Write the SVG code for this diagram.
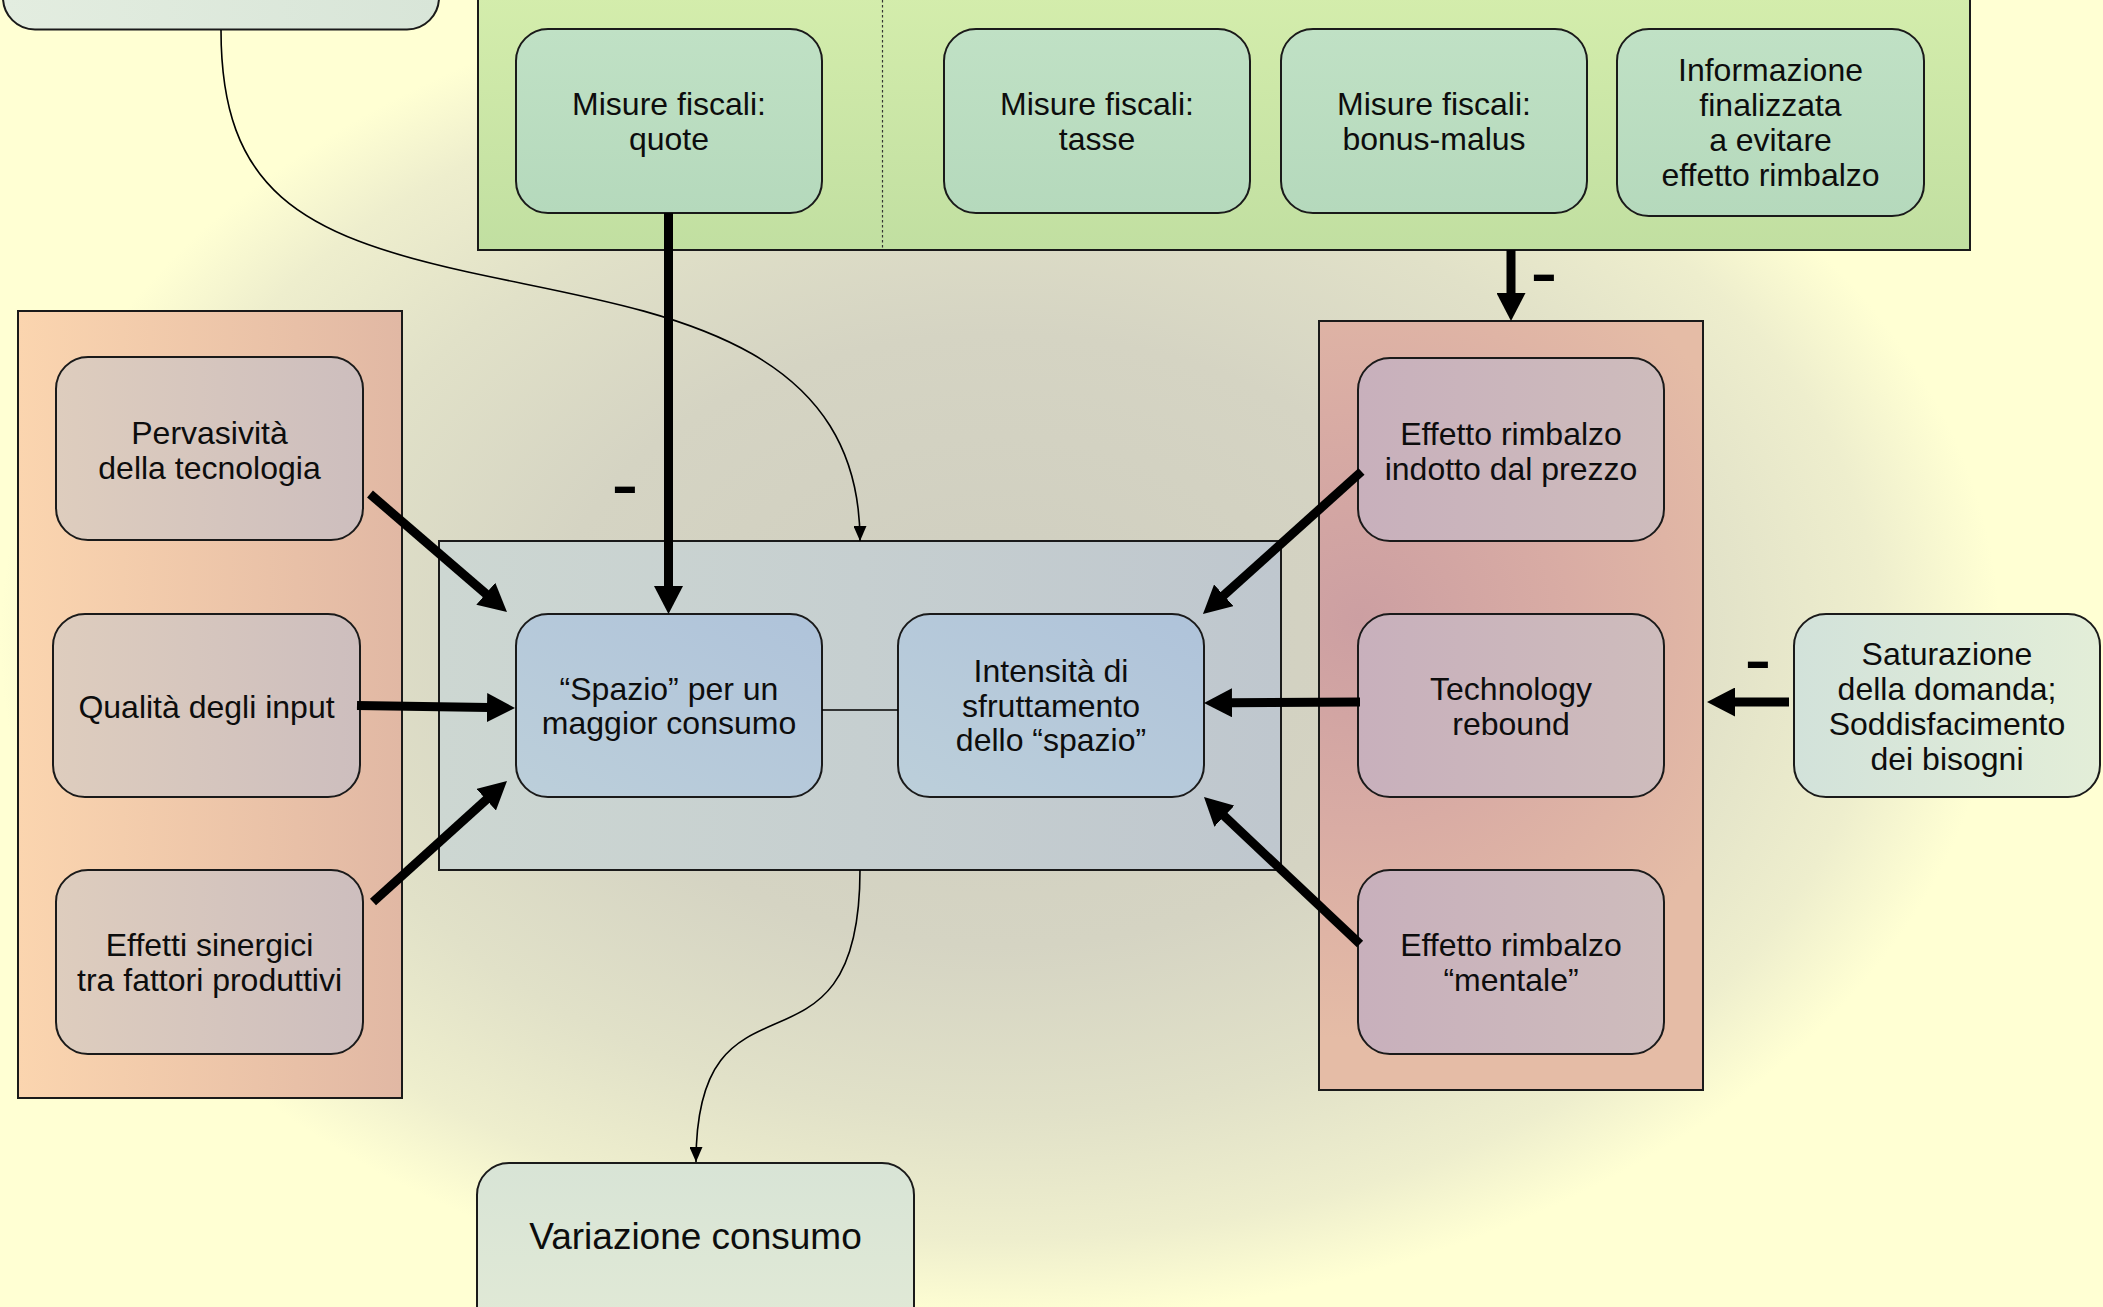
<svg xmlns="http://www.w3.org/2000/svg" width="2103" height="1307" viewBox="0 0 2103 1307">
<defs>
<radialGradient id="bg" gradientUnits="userSpaceOnUse" cx="1000" cy="640" r="1000" gradientTransform="translate(1000 640) scale(1 0.68) translate(-1000 -640)">
<stop offset="0" stop-color="#CFCEC0"/>
<stop offset="0.45" stop-color="#D5D4C3"/>
<stop offset="0.7" stop-color="#E1E1C8"/>
<stop offset="0.88" stop-color="#EEEECD"/>
<stop offset="1" stop-color="#FFFFD3"/>
</radialGradient>
<linearGradient id="gGreen" x1="0" y1="0" x2="0" y2="1">
<stop offset="0" stop-color="#D4EDAC"/>
<stop offset="1" stop-color="#C1DFA1"/>
</linearGradient>
<linearGradient id="gMint" x1="0" y1="0" x2="0" y2="1">
<stop offset="0" stop-color="#C0E1C5"/>
<stop offset="1" stop-color="#B5D9BC"/>
</linearGradient>
<linearGradient id="gPeach" x1="0" y1="0" x2="1" y2="0">
<stop offset="0" stop-color="#FBD5AF"/>
<stop offset="1" stop-color="#E1B8A4"/>
</linearGradient>
<linearGradient id="gLeftNode" x1="0" y1="0" x2="1" y2="0">
<stop offset="0" stop-color="#DECDBE"/>
<stop offset="1" stop-color="#CDBEBE"/>
</linearGradient>
<linearGradient id="gCenter" x1="0" y1="0" x2="1" y2="0">
<stop offset="0" stop-color="#CDD7D2"/>
<stop offset="1" stop-color="#BFC7CE"/>
</linearGradient>
<linearGradient id="gBlue" x1="0" y1="1" x2="1" y2="0">
<stop offset="0" stop-color="#BCCFDA"/>
<stop offset="1" stop-color="#AFC3DA"/>
</linearGradient>
<radialGradient id="gRight" gradientUnits="userSpaceOnUse" cx="1360" cy="620" r="420">
<stop offset="0" stop-color="#CC9FA2"/>
<stop offset="0.5" stop-color="#D9ACA4"/>
<stop offset="1" stop-color="#E5BCA6"/>
</radialGradient>
<linearGradient id="gMauve" x1="0" y1="0" x2="1" y2="0">
<stop offset="0" stop-color="#C8B0BC"/>
<stop offset="1" stop-color="#CEBCBC"/>
</linearGradient>
<linearGradient id="gSat" x1="0" y1="0" x2="1" y2="0">
<stop offset="0" stop-color="#D2E2DA"/>
<stop offset="1" stop-color="#E3EED8"/>
</linearGradient>
<linearGradient id="gVar" x1="0" y1="0" x2="0" y2="1">
<stop offset="0" stop-color="#D8E4D6"/>
<stop offset="1" stop-color="#E2EAD6"/>
</linearGradient>
<linearGradient id="gTopLeft" x1="0" y1="0" x2="1" y2="0">
<stop offset="0" stop-color="#E3EDE0"/>
<stop offset="1" stop-color="#D8E5D8"/>
</linearGradient>
<marker id="ah" markerUnits="userSpaceOnUse" markerWidth="28" markerHeight="29" viewBox="0 0 28 29" refX="2" refY="14.5" orient="auto">
<path d="M0,0 L28,14.5 L0,29 z" fill="#000"/>
</marker>
<marker id="ahs" markerUnits="userSpaceOnUse" markerWidth="15" markerHeight="13" viewBox="0 0 15 13" refX="15" refY="6.5" orient="auto">
<path d="M0,0 L15,6.5 L0,13 z" fill="#000"/>
</marker>
</defs>
<style>
.box { stroke:#1a1a1a; stroke-width:2; }
.cont { stroke:#1a1a1a; stroke-width:2; }
.t { font-family:"Liberation Sans", Arial, sans-serif; font-size:32px; fill:#0d0d0d; text-anchor:middle; }
.big { font-size:37px; }
.minus { font-family:"Liberation Sans", Arial, sans-serif; font-size:82px; fill:#000; text-anchor:middle; }
.thick { stroke:#000; stroke-width:9; fill:none; marker-end:url(#ah); }
.thin { stroke:#000; stroke-width:1.6; fill:none; marker-end:url(#ahs); }
</style>
<rect x="0" y="0" width="2103" height="1307" fill="url(#bg)"/>

<g id="node-topleft"><rect class="box" x="3" y="-160" width="436" height="189.5" rx="32" fill="url(#gTopLeft)"/></g>

<g id="group-misure">
<rect class="cont" x="478" y="-5" width="1492" height="255" fill="url(#gGreen)"/>
<line x1="882.5" y1="-5" x2="882.5" y2="249" stroke="#333" stroke-width="1.2" stroke-dasharray="2.5,2.5"/>
</g>
<g id="node-quote"><rect class="box" x="516" y="29" width="306" height="184" rx="32" fill="url(#gMint)"/>
<text class="t" x="669" y="115">Misure fiscali:</text><text class="t" x="669" y="150">quote</text></g>
<g id="node-tasse"><rect class="box" x="944" y="29" width="306" height="184" rx="32" fill="url(#gMint)"/>
<text class="t" x="1097" y="115">Misure fiscali:</text><text class="t" x="1097" y="150">tasse</text></g>
<g id="node-bonus"><rect class="box" x="1281" y="29" width="306" height="184" rx="32" fill="url(#gMint)"/>
<text class="t" x="1434" y="115">Misure fiscali:</text><text class="t" x="1434" y="150">bonus-malus</text></g>
<g id="node-info"><rect class="box" x="1617" y="29" width="307" height="187" rx="32" fill="url(#gMint)"/>
<text class="t" x="1770.5" y="81">Informazione</text><text class="t" x="1770.5" y="116">finalizzata</text><text class="t" x="1770.5" y="151">a evitare</text><text class="t" x="1770.5" y="186">effetto rimbalzo</text></g>

<g id="group-left"><rect class="cont" x="18" y="311" width="384" height="787" fill="url(#gPeach)"/></g>
<g id="node-pervasivita"><rect class="box" x="56" y="357" width="307" height="183" rx="32" fill="url(#gLeftNode)"/>
<text class="t" x="209.5" y="444">Pervasività</text><text class="t" x="209.5" y="479">della tecnologia</text></g>
<g id="node-qualita"><rect class="box" x="53" y="614" width="307" height="183" rx="32" fill="url(#gLeftNode)"/>
<text class="t" x="206.5" y="718">Qualità degli input</text></g>
<g id="node-effetti"><rect class="box" x="56" y="870" width="307" height="184" rx="32" fill="url(#gLeftNode)"/>
<text class="t" x="209.5" y="956">Effetti sinergici</text><text class="t" x="209.5" y="991">tra fattori produttivi</text></g>

<g id="group-center"><rect class="cont" x="439" y="541" width="842" height="329" fill="url(#gCenter)"/></g>
<g id="node-spazio"><rect class="box" x="516" y="614" width="306" height="183" rx="32" fill="url(#gBlue)"/>
<text class="t" x="669" y="700">“Spazio” per un</text><text class="t" x="669" y="734">maggior consumo</text></g>
<g id="node-intensita"><rect class="box" x="898" y="614" width="306" height="183" rx="32" fill="url(#gBlue)"/>
<text class="t" x="1051" y="682">Intensità di</text><text class="t" x="1051" y="716.5">sfruttamento</text><text class="t" x="1051" y="751">dello “spazio”</text></g>

<g id="group-right"><rect class="cont" x="1319" y="321" width="384" height="769" fill="url(#gRight)"/></g>
<g id="node-indotto"><rect class="box" x="1358" y="358" width="306" height="183" rx="32" fill="url(#gMauve)"/>
<text class="t" x="1511" y="445">Effetto rimbalzo</text><text class="t" x="1511" y="480">indotto dal prezzo</text></g>
<g id="node-technology"><rect class="box" x="1358" y="614" width="306" height="183" rx="32" fill="url(#gMauve)"/>
<text class="t" x="1511" y="700">Technology</text><text class="t" x="1511" y="735">rebound</text></g>
<g id="node-mentale"><rect class="box" x="1358" y="870" width="306" height="184" rx="32" fill="url(#gMauve)"/>
<text class="t" x="1511" y="956">Effetto rimbalzo</text><text class="t" x="1511" y="991">“mentale”</text></g>

<g id="node-saturazione"><rect class="box" x="1794" y="614" width="306" height="183" rx="32" fill="url(#gSat)"/>
<text class="t" x="1947" y="665">Saturazione</text><text class="t" x="1947" y="700">della domanda;</text><text class="t" x="1947" y="735">Soddisfacimento</text><text class="t" x="1947" y="770">dei bisogni</text></g>

<g id="node-variazione"><rect class="box" x="477" y="1163" width="437" height="190" rx="32" fill="url(#gVar)"/>
<text class="t big" x="695.5" y="1249">Variazione consumo</text></g>

<g id="connectors">
<line x1="822" y1="710" x2="898" y2="710" stroke="#000" stroke-width="1.6"/>
<path class="thin" d="M221,30 C221,190 300,235 468,272 C640,310 860,330 860,541"/>
<path class="thin" d="M860,870 C860,1100 696,950 696,1162"/>
<line class="thick" x1="668.5" y1="213" x2="668.5" y2="588"/>
<line class="thick" x1="1511" y1="250" x2="1511" y2="295"/>
<line class="thick" x1="370" y1="494" x2="487.3" y2="595"/>
<line class="thick" x1="357" y1="705.5" x2="489" y2="707.6"/>
<line class="thick" x1="373" y1="902" x2="487.7" y2="798.4"/>
<line class="thick" x1="1361.5" y1="471.5" x2="1222.3" y2="596.6"/>
<line class="thick" x1="1360" y1="702" x2="1230" y2="702.8"/>
<line class="thick" x1="1360" y1="944" x2="1222.9" y2="814.8"/>
<line class="thick" x1="1789" y1="702" x2="1733" y2="702"/>
<text class="minus" x="625" y="511.7">-</text>
<text class="minus" x="1544" y="299.7">-</text>
<text class="minus" x="1758" y="686.7">-</text>
</g>
</svg>
